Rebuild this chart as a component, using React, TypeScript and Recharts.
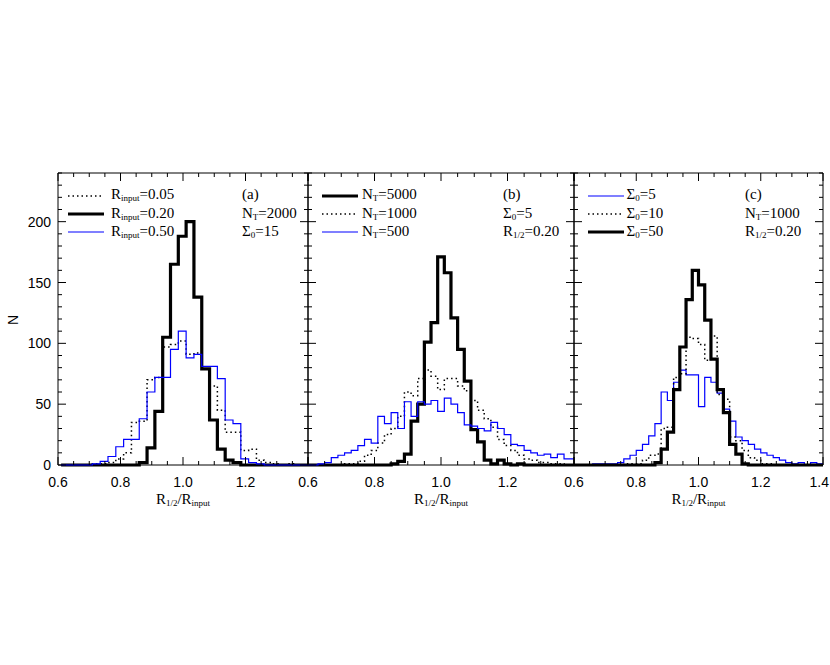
import React from "react";
import { LineChart, Line, XAxis, YAxis, Legend, ReferenceArea } from "recharts";

const SERIF = '"Liberation Serif", "Times New Roman", serif';
const SANS = '"Liberation Sans", Arial, sans-serif';

const X_MAJOR = [0.6, 0.8, 1.0, 1.2, 1.4];
const X_TICKS = [0.6, 0.65, 0.7, 0.75, 0.8, 0.85, 0.9, 0.95, 1.0, 1.05, 1.1, 1.15, 1.2, 1.25, 1.3, 1.35, 1.4];
const Y_MAJOR = [0, 50, 100, 150, 200];
const Y_TICKS = [0, 10, 20, 30, 40, 50, 60, 70, 80, 90, 100, 110, 120, 130, 140, 150, 160, 170, 180, 190, 200, 210, 220, 230, 240];

// panel (a): bins of 0.025, first left edge 0.61
const A_START = 0.61;
const A_WIDTH = 0.025;
const A_RIN_005 = [0, 0, 0, 0, 1, 1, 2, 5, 10, 35, 36, 70, 72, 97, 99, 102, 91, 92, 79, 65, 45, 27, 27, 12, 13, 4, 2, 1, 0, 1, 0, 0];
const A_RIN_020 = [0, 0, 0, 0, 0, 0, 0, 0, 0, 0, 2, 14, 44, 105, 165, 188, 200, 138, 79, 37, 13, 4, 2, 0, 0, 0, 0, 0, 0, 0, 0, 0];
const A_RIN_050 = [0, 0, 0, 0, 1, 3, 7, 15, 21, 21, 38, 60, 72, 72, 95, 110, 88, 91, 81, 81, 71, 37, 34, 5, 2, 1, 0, 0, 0, 0, 0, 0];

// panel (b): bins of 0.02, first left edge 0.59
const B_START = 0.59;
const B_WIDTH = 0.02;
const B_NT_5000 = [0, 0, 0, 0, 0, 0, 0, 0, 0, 0, 0, 0, 0, 1, 3, 9, 36, 50, 101, 117, 171, 158, 121, 95, 69, 29, 19, 4, 1, 4, 1, 0, 1, 0, 0, 0, 0, 0, 0, 0, 0];
const B_NT_1000 = [0, 0, 0, 0, 0, 0, 1, 1, 3, 8, 12, 18, 25, 30, 40, 60, 57, 71, 78, 73, 62, 71, 71, 65, 61, 53, 45, 38, 31, 21, 16, 12, 8, 5, 4, 2, 2, 1, 1, 0, 0];
const B_NT_500 = [0, 0, 1, 2, 6, 8, 10, 12, 16, 21, 18, 40, 34, 43, 30, 52, 40, 52, 50, 53, 44, 55, 50, 43, 33, 32, 30, 28, 35, 30, 25, 17, 16, 12, 10, 8, 9, 6, 9, 5, 5];

// panel (c): bins of 0.02, first left edge 0.60
const C_START = 0.6;
const C_WIDTH = 0.02;
const C_S0_5 = [0, 0, 0, 1, 1, 1, 1, 2, 5, 8, 12, 17, 24, 34, 60, 53, 68, 78, 74, 74, 48, 72, 68, 59, 46, 36, 23, 20, 17, 13, 10, 8, 6, 4, 2, 1, 2, 0, 2, 1];
const C_S0_10 = [0, 0, 0, 0, 0, 0, 0, 0, 1, 1, 1, 4, 8, 9, 30, 31, 72, 75, 105, 104, 99, 86, 106, 58, 54, 23, 20, 12, 6, 4, 1, 1, 0, 0, 0, 0, 0, 0, 0, 0];
const C_S0_50 = [0, 0, 0, 0, 0, 0, 0, 0, 0, 0, 0, 0, 0, 2, 13, 27, 62, 97, 136, 160, 148, 119, 87, 62, 43, 17, 9, 1, 0, 0, 0, 0, 0, 0, 0, 0, 0, 0, 0, 0];

const DOTTED = { stroke: "#000", strokeWidth: 1.5, strokeDasharray: "1.5 3" };
const THICK = { stroke: "#000", strokeWidth: 3.2 };
const BLUE = { stroke: "#0000ff", strokeWidth: 1.2 };

const PLOT_TOP = 173;
const PLOT_H = 292;
const BOX_TOP = 150;
const BOX_H = 380;
const RIGHT_PAD = 15;

function buildRows(start: number, width: number, series: Record<string, number[]>) {
  const keys = Object.keys(series);
  const n = series[keys[0]].length;
  const rows: any[] = [];
  for (let i = 0; i <= n; i++) {
    const row: any = { x: +(start + i * width).toFixed(4) };
    keys.forEach((k) => {
      row[k] = series[k][Math.min(i, n - 1)];
    });
    rows.push(row);
  }
  return rows;
}

// "R_{input}=0.05" -> R with subscript
const Rich = ({ s, size = 15 }: { s: string; size?: number }) => {
  const parts = s.split(/(_\{[^}]*\})/);
  return (
    <>
      {parts.map((p, i) =>
        p.startsWith("_{") ? (
          <span key={i} style={{ fontSize: size * 0.6, position: "relative", top: 2 }}>
            {p.slice(2, -1)}
          </span>
        ) : (
          <span key={i}>{p}</span>
        )
      )}
    </>
  );
};

const isMajor = (v: number, majors: number[]) => majors.some((m) => Math.abs(m - v) < 1e-6);

const renderXTick = (p: any, plotH: number, hideLast: boolean) => {
  const { x, y, payload } = p;
  const v = payload.value;
  const major = isMajor(v, X_MAJOR);
  const len = major ? 8 : 4;
  const last = Math.abs(v - 1.4) < 1e-6;
  const label = major && !(hideLast && last);
  return (
    <g>
      <line x1={x} x2={x} y1={y} y2={y - len} stroke="#000" strokeWidth={1} />
      <line x1={x} x2={x} y1={y - plotH} y2={y - plotH + len} stroke="#000" strokeWidth={1} />
      {label && (
        <text
          x={last ? x + 6 : x}
          y={y + 22}
          textAnchor={last ? "end" : "middle"}
          fontFamily={SANS}
          fontSize={14}
          fill="#000"
        >
          {v.toFixed(1)}
        </text>
      )}
    </g>
  );
};

const renderYTick = (p: any, plotW: number, showLabel: boolean) => {
  const { x, y, payload } = p;
  const v = payload.value;
  const major = isMajor(v, Y_MAJOR);
  const len = major ? 8 : 4;
  return (
    <g>
      <line x1={x} x2={x + len} y1={y} y2={y} stroke="#000" strokeWidth={1} />
      <line x1={x + plotW} x2={x + plotW - len} y1={y} y2={y} stroke="#000" strokeWidth={1} />
      {showLabel && major && (
        <text x={x - 7} y={y + 5} textAnchor="end" fontFamily={SANS} fontSize={14} fill="#000">
          {v}
        </text>
      )}
    </g>
  );
};

interface SeriesDef {
  key: string;
  label: string;
  style: any;
}

const ROW_STEP = 18.3;
const ROW1_TOP = 187.4;

// legend rows follow the series order of the panel, not the library's sorting
const legendContent = (series: SeriesDef[], textOffset: number) => () => (
  <div style={{ position: "relative", fontFamily: SERIF, fontSize: 15, lineHeight: "15px" }}>
    {series.map((s, i) => (
      <div key={s.key} style={{ position: "absolute", left: 0, top: i * ROW_STEP, whiteSpace: "nowrap" }}>
        <svg width={37} height={8} style={{ position: "absolute", left: 0, top: 4.5 }}>
          <line x1={0} x2={36} y1={4} y2={4} {...s.style} />
        </svg>
        <span style={{ position: "absolute", left: textOffset, top: 0 }}>
          <Rich s={s.label} />
        </span>
      </div>
    ))}
  </div>
);

interface PanelProps {
  boxLeft: number;
  plotLeft: number;
  plotW: number;
  rows: any[];
  series: SeriesDef[];
  showYLabels: boolean;
  hideLastX: boolean;
  legendLeft: number;
  textOffset: number;
}

const Panel = ({ boxLeft, plotLeft, plotW, rows, series, showYLabels, hideLastX, legendLeft, textOffset }: PanelProps) => {
  const yAxisW = plotLeft - boxLeft - (showYLabels ? 8 : 0);
  const width = plotLeft - boxLeft + plotW + RIGHT_PAD;
  return (
    <div style={{ position: "absolute", left: boxLeft, top: BOX_TOP }}>
      <LineChart
        width={width}
        height={BOX_H}
        data={rows}
        style={{ overflow: "visible" }}
        margin={{ top: PLOT_TOP - BOX_TOP, right: RIGHT_PAD, bottom: BOX_H - (PLOT_TOP - BOX_TOP) - PLOT_H - 30, left: showYLabels ? 8 : 0 }}
      >
        <ReferenceArea x1={0.6} x2={1.4} y1={0} y2={240} fill="none" stroke="#000" strokeWidth={1} />
        <XAxis
          dataKey="x"
          type="number"
          domain={[0.6, 1.4]}
          allowDataOverflow
          ticks={X_TICKS}
          interval={0}
          tickSize={0}
          tickMargin={0}
          tickLine={false}
          axisLine={false}
          height={30}
          tick={(p: any) => renderXTick(p, PLOT_H, hideLastX)}
        />
        <YAxis
          type="number"
          domain={[0, 240]}
          ticks={Y_TICKS}
          interval={0}
          tickSize={0}
          tickMargin={0}
          tickLine={false}
          axisLine={false}
          width={yAxisW}
          tick={(p: any) => renderYTick(p, plotW, showYLabels)}
        />
        {series.map((s) => (
          <Line
            key={s.key}
            dataKey={s.key}
            name={s.label}
            type="stepAfter"
            dot={false}
            activeDot={false}
            isAnimationActive={false}
            {...s.style}
          />
        ))}
        <Legend
          layout="vertical"
          align="center"
          verticalAlign="middle"
          wrapperStyle={{ left: legendLeft - boxLeft, top: ROW1_TOP - BOX_TOP, width: 150, height: 60 }}
          content={legendContent(series, textOffset)}
        />
      </LineChart>
    </div>
  );
};

const Note = ({ left, row, text }: { left: number; row: number; text: string }) => (
  <div
    style={{
      position: "absolute",
      left,
      top: ROW1_TOP + row * ROW_STEP,
      fontFamily: SERIF,
      fontSize: 15,
      lineHeight: "15px",
      whiteSpace: "nowrap",
    }}
  >
    <Rich s={text} />
  </div>
);

const XTitle = ({ cx }: { cx: number }) => (
  <div
    style={{
      position: "absolute",
      left: cx,
      top: 492.4,
      transform: "translateX(-50%)",
      fontFamily: SERIF,
      fontSize: 15,
      lineHeight: "15px",
      whiteSpace: "nowrap",
    }}
  >
    <Rich s="R_{1/2}/R_{input}" />
  </div>
);

const seriesA: SeriesDef[] = [
  { key: "r005", label: "R_{input}=0.05", style: DOTTED },
  { key: "r020", label: "R_{input}=0.20", style: THICK },
  { key: "r050", label: "R_{input}=0.50", style: BLUE },
];
const seriesB: SeriesDef[] = [
  { key: "n5000", label: "N_{T}=5000", style: THICK },
  { key: "n1000", label: "N_{T}=1000", style: DOTTED },
  { key: "n500", label: "N_{T}=500", style: BLUE },
];
const seriesC: SeriesDef[] = [
  { key: "s5", label: "Σ_{0}=5", style: BLUE },
  { key: "s10", label: "Σ_{0}=10", style: DOTTED },
  { key: "s50", label: "Σ_{0}=50", style: THICK },
];

const rowsA = buildRows(A_START, A_WIDTH, { r005: A_RIN_005, r020: A_RIN_020, r050: A_RIN_050 });
const rowsB = buildRows(B_START, B_WIDTH, { n5000: B_NT_5000, n1000: B_NT_1000, n500: B_NT_500 });
const rowsC = buildRows(C_START, C_WIDTH, { s5: C_S0_5, s10: C_S0_10, s50: C_S0_50 });

export default function App() {
  return (
    <div style={{ position: "absolute", left: 0, top: 0, width: 830, height: 665, background: "#fff", overflow: "hidden" }}>
      <Panel boxLeft={0} plotLeft={58} plotW={250} rows={rowsA} series={seriesA} showYLabels hideLastX legendLeft={68} textOffset={43} />
      <Panel boxLeft={298} plotLeft={308} plotW={266} rows={rowsB} series={seriesB} showYLabels={false} hideLastX legendLeft={322} textOffset={40} />
      <Panel boxLeft={564} plotLeft={574} plotW={249} rows={rowsC} series={seriesC} showYLabels={false} hideLastX={false} legendLeft={588} textOffset={38.5} />

      <Note left={242} row={0} text="(a)" />
      <Note left={242} row={1} text="N_{T}=2000" />
      <Note left={242} row={2} text="Σ_{0}=15" />
      <Note left={503} row={0} text="(b)" />
      <Note left={503} row={1} text="Σ_{0}=5" />
      <Note left={503} row={2} text="R_{1/2}=0.20" />
      <Note left={745} row={0} text="(c)" />
      <Note left={745} row={1} text="N_{T}=1000" />
      <Note left={745} row={2} text="R_{1/2}=0.20" />

      <XTitle cx={183} />
      <XTitle cx={441} />
      <XTitle cx={698.5} />

      <div
        style={{
          position: "absolute",
          left: 13,
          top: 320,
          transform: "translate(-50%, -50%) rotate(-90deg)",
          fontFamily: SANS,
          fontSize: 14,
          lineHeight: "14px",
        }}
      >
        N
      </div>
    </div>
  );
}
